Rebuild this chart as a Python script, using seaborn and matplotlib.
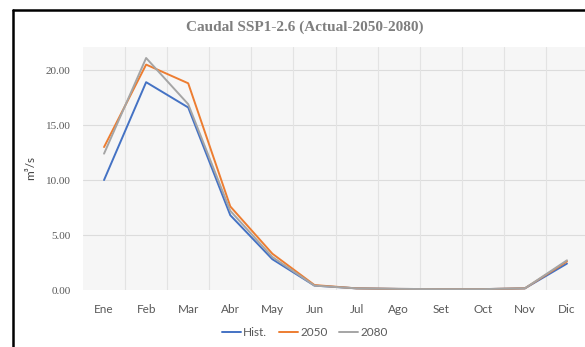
import matplotlib
matplotlib.use("Agg")
import matplotlib.pyplot as plt
import seaborn as sns
import pandas as pd
import numpy as np
from matplotlib.lines import Line2D

months = ["Ene", "Feb", "Mar", "Abr", "May", "Jun", "Jul", "Ago", "Set", "Oct", "Nov", "Dic"]
hist = [10.0, 18.9, 16.6, 6.8, 2.8, 0.40, 0.15, 0.10, 0.08, 0.08, 0.15, 2.4]
s2050 = [13.0, 20.5, 18.8, 7.6, 3.3, 0.45, 0.15, 0.10, 0.08, 0.08, 0.15, 2.6]
s2080 = [12.4, 21.1, 16.9, 7.2, 3.0, 0.40, 0.15, 0.10, 0.08, 0.08, 0.15, 2.7]
series_names = ["Hist.", "2050", "2080"]
yticks = [0.0, 5.0, 10.0, 15.0, 20.0]
title = "Caudal SSP1-2.6 (Actual-2050-2080)"

rows = []
for name, vals in zip(series_names, [hist, s2050, s2080]):
    for i, (m, v) in enumerate(zip(months, vals)):
        rows.append({"idx": i, "mes": m, "caudal": v, "serie": name})
df = pd.DataFrame(rows)

sns.set_style("white")
W, H = 585, 347
fig = plt.figure(figsize=(W / 100, H / 100), dpi=100)
ax = fig.add_axes([83 / W, 1 - 290 / H, (588 - 83) / W, (290 - 47) / H])
ax.set_facecolor("#f6f6f6")

palette = {"Hist.": "#4472C4", "2050": "#ED7D31", "2080": "#A5A5A5"}
sns.lineplot(data=df, x="idx", y="caudal", hue="serie", hue_order=series_names,
             palette=palette, linewidth=1.4, ax=ax, legend=False, sort=False)

ax.set_xlim(-0.5, len(months) - 0.5)
ax.set_ylim(0, 22.1)
ax.set_xticks(range(len(months)))
ax.set_xticklabels(months, family="Lato", fontsize=8.5, color="#595959")
ax.set_yticks(yticks)
ax.set_yticklabels([f"{t:.2f}" for t in yticks], family="Liberation Serif",
                   fontsize=8, color="#595959")
ax.tick_params(axis="both", length=0)
ax.tick_params(axis="y", pad=9)
ax.tick_params(axis="x", pad=10)
for yt in yticks[1:]:
    ax.axhline(yt, color="#dcdcdc", lw=0.8, zorder=0)
for b in np.arange(0.5, len(months) - 0.5, 1.0):
    ax.axvline(b, color="#e3e3e3", lw=0.8, zorder=0)
for s in ax.spines.values():
    s.set_visible(False)
ax.set_xlabel("")
ax.set_ylabel("m³/s", family="Lato", fontsize=8.5, color="#404040", labelpad=7)

fig.text(305 / W, 1 - 27 / H, title, ha="center", va="center",
         family="Liberation Serif", fontsize=11, color="#7f7f7f", fontweight="bold")

handles = [Line2D([], [], color=palette[n], lw=1.4) for n in series_names]
fig.legend(handles, series_names, loc="center", bbox_to_anchor=(305 / W, 1 - 333 / H),
           ncol=3, frameon=False, handlelength=1.6, handletextpad=0.2, columnspacing=1.0,
           prop={"family": "Lato", "size": 8.5}, labelcolor="#595959")

fig.add_artist(Line2D([13 / W, 1.0], [1 - 10 / H, 1 - 10 / H], color="black", lw=1.8,
                      transform=fig.transFigure))
fig.add_artist(Line2D([13 / W, 13 / W], [0.0, 1 - 10 / H], color="black", lw=1.8,
                      transform=fig.transFigure))

fig.savefig("out.png", dpi=100)
